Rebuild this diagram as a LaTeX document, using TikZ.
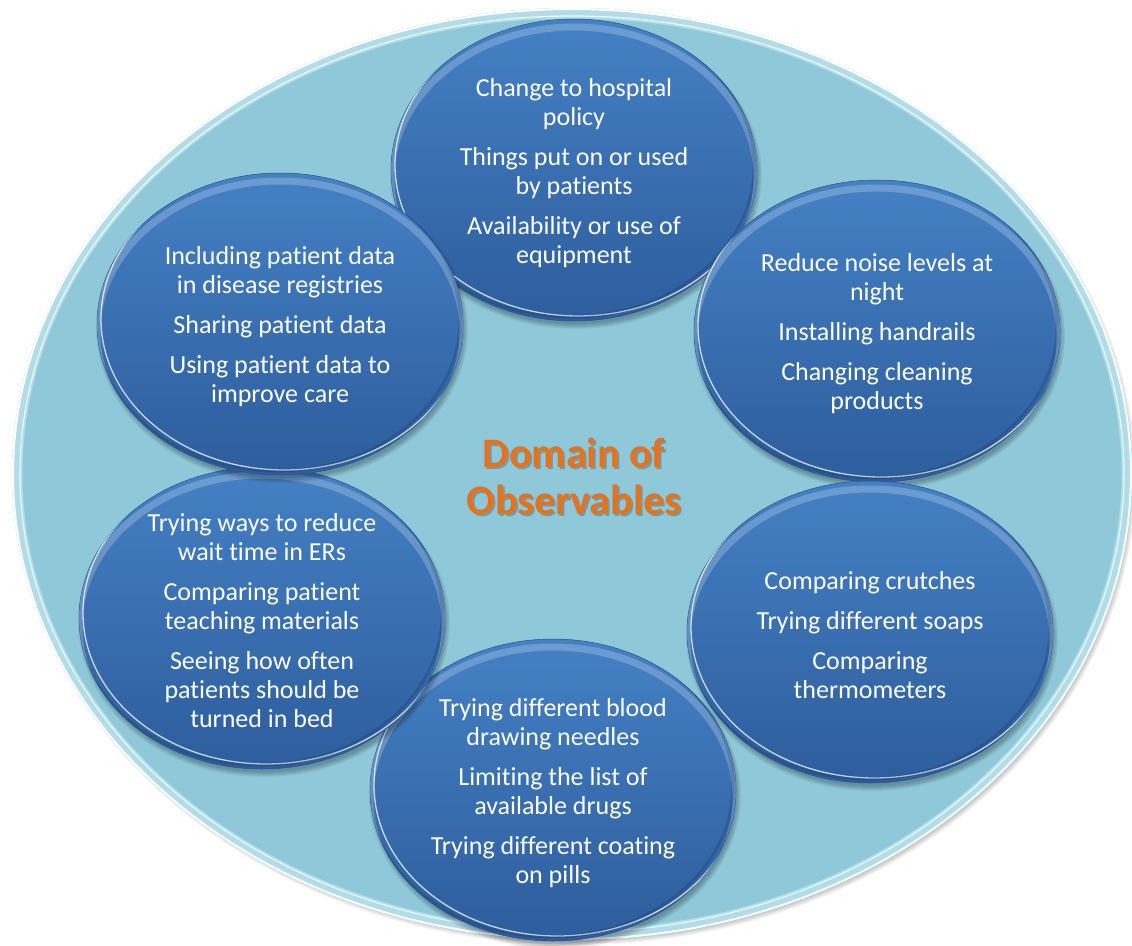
\documentclass[tikz,border=0pt]{standalone}
\usepackage{fontspec}
\setmainfont[Ligatures=NoCommon]{Carlito}
\usetikzlibrary{shapes.geometric}

\definecolor{poolfill}{RGB}{143,201,217}
\definecolor{poolrim}{RGB}{176,221,233}
\definecolor{bubbletop}{RGB}{68,129,196}
\definecolor{bubblebot}{RGB}{45,93,157}
\definecolor{bubbleedge}{RGB}{40,82,140}
\definecolor{titleorange}{RGB}{232,114,26}

\tikzset{
  bubble/.style={ellipse, inner sep=0pt, minimum width=366pt, minimum height=302pt,
    top color=bubbletop, bottom color=bubblebot, draw=bubbleedge, line width=0.5pt},
  bubbletext/.style={text=white, align=center, inner sep=0pt,
    font=\fontsize{26}{29}\selectfont},
  titletext/.style={align=center, inner sep=0pt,
    font=\bfseries\fontsize{42}{47}\selectfont},
}

% one observable group: soft shadow, glossy ellipse, centred text
\newcommand\obsbubble[4]{%
  \foreach \k in {0,...,5}
    \fill[black, opacity=0.05] (#2+2,#3+5) ellipse ({181+\k} and {149+\k});
  \node[bubble] (#1) at (#2,#3) {};
  \begin{scope}
    \clip (#2,#3) ellipse (183 and 151);
    \draw[white, opacity=0.22, line width=7pt] (#2,#3+8) ellipse (183 and 151);
    \draw[white, opacity=0.75, line width=1.3pt] (#2+4,#3-5) ellipse (183 and 151);
    \draw[black, opacity=0.12, line width=3pt] (#2-3,#3-4) ellipse (183 and 151);
  \end{scope}
  \node[bubbletext] (#1t) at (#2,#3+3) {#4};
}

\begin{document}
\begin{tikzpicture}[x=1pt, y=-1pt]
  \useasboundingbox (0,0) rectangle (1132,945);
  \fill[white] (0,0) rectangle (1132,945);

  % the domain: large pale ellipse with a light bevelled rim
  \foreach \k in {0,...,5}
    \fill[black, opacity=0.04] (575,478) ellipse ({556+\k} and {462+\k});
  \node[ellipse, inner sep=0pt, minimum width=1120pt, minimum height=932pt,
        fill=poolfill] (domain) at (572,474) {};
  \draw[poolrim, line width=9pt] (572,474) ellipse (554 and 460);
  \draw[white, opacity=0.8, line width=1.2pt] (572,474) ellipse (552 and 458);
  \draw[white, line width=2pt] (572,474) ellipse (559 and 465);

  % groups, back ones first
  \obsbubble{policy}{574}{170}{Change to hospital\\policy\\[11pt]Things put on or used\\by patients\\[11pt]Availability or use of\\equipment}
  \obsbubble{drugs}{553}{790}{Trying different blood\\drawing needles\\[11pt]Limiting the list of\\available drugs\\[11pt]Trying different coating\\on pills}
  \obsbubble{environment}{877}{331}{Reduce noise levels at\\night\\[11pt]Installing handrails\\[11pt]Changing cleaning\\products}
  \obsbubble{supplies}{870}{632}{Comparing crutches\\[11pt]Trying different soaps\\[11pt]Comparing\\thermometers}
  \obsbubble{care}{262}{618}{Trying ways to reduce\\wait time in ERs\\[11pt]Comparing patient\\teaching materials\\[11pt]Seeing how often\\patients should be\\turned in bed}
  \obsbubble{data}{280}{324}{Including patient data\\in disease registries\\[11pt]Sharing patient data\\[11pt]Using patient data to\\improve care}

  % title
  \node[titletext, text=black, opacity=0.22] (titleshadow) at (576,478) {Domain of\\Observables};
  \node[titletext, text=titleorange] (title) at (574,476) {Domain of\\Observables};
\end{tikzpicture}
\end{document}
